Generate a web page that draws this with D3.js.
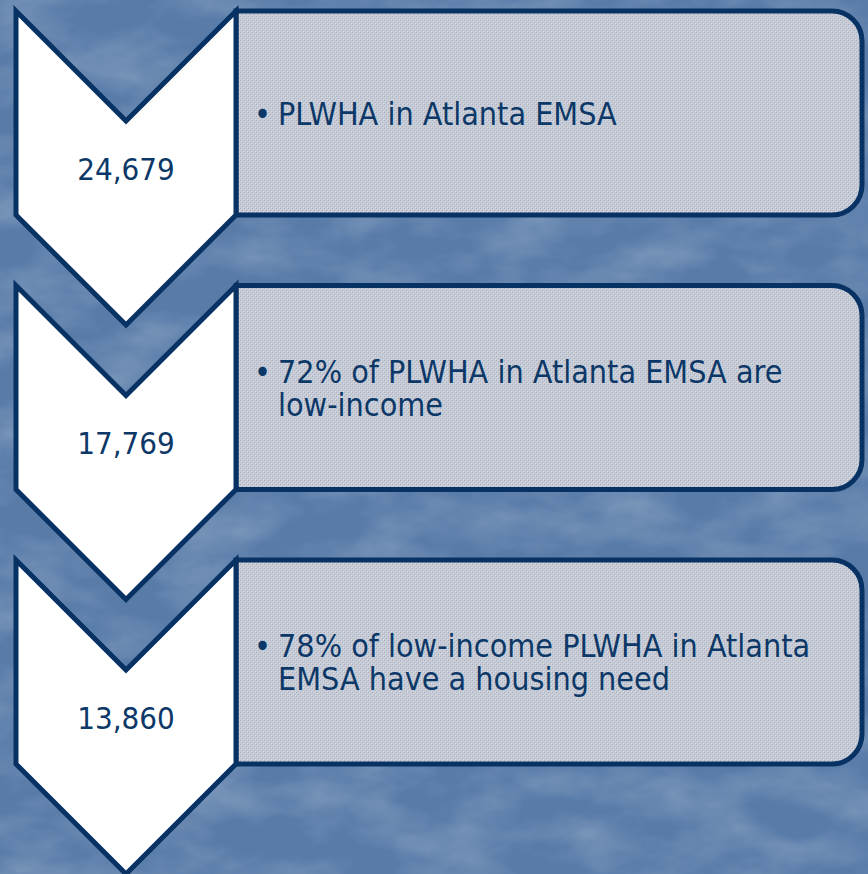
<!DOCTYPE html>
<html>
<head>
<meta charset="utf-8">
<script src="https://cdn.jsdelivr.net/npm/d3@7"></script>
<style>
  html, body { margin: 0; padding: 0; background: #5a7da9; }
  svg { display: block; }
  text { font-family: "DejaVu Sans Condensed", "DejaVu Sans", sans-serif; font-stretch: condensed; }
</style>
</head>
<body>
<script>
// ---- data ----
const stepIndex = [0, 1, 2];
const counts = [24679, 17769, 13860];
const descriptions = [
  ["PLWHA in Atlanta EMSA"],
  ["72% of PLWHA in Atlanta EMSA are", "low-income"],
  ["78% of low-income PLWHA in Atlanta", "EMSA have a housing need"]
];

// ---- layout ----
const W = 868, H = 874;
const navy = "#073263";
const textColor = "#0c3868";
const fontSize = 32;
const numSize = 31;
const lineH = 33;

const svg = d3.select("body").append("svg").attr("width", W).attr("height", H);
const defs = svg.append("defs");

// background texture
const f = defs.append("filter").attr("id", "tex").attr("x", 0).attr("y", 0).attr("width", "100%").attr("height", "100%");
f.append("feTurbulence").attr("type", "fractalNoise").attr("baseFrequency", "0.012 0.022").attr("numOctaves", 4).attr("seed", 11);
f.append("feColorMatrix").attr("type", "matrix")
  .attr("values", "0 0 0 0 1  0 0 0 0 1  0 0 0 0 1  0.4 0 0 0 -0.15");

svg.append("rect").attr("width", W).attr("height", H).attr("fill", "#587ba8");
svg.append("rect").attr("width", W).attr("height", H).attr("filter", "url(#tex)");

// dotted fill for boxes
const pat = defs.append("pattern").attr("id", "dots").attr("patternUnits", "userSpaceOnUse")
  .attr("width", 4).attr("height", 4);
pat.append("rect").attr("width", 4).attr("height", 4).attr("fill", "#c5cad4");
pat.append("rect").attr("x", 0).attr("y", 0).attr("width", 1).attr("height", 1).attr("fill", "#a7b0c2");
pat.append("rect").attr("x", 2).attr("y", 2).attr("width", 1).attr("height", 1).attr("fill", "#a7b0c2");
pat.append("rect").attr("x", 1).attr("y", 1).attr("width", 1).attr("height", 1).attr("fill", "#d8dbe3");
pat.append("rect").attr("x", 3).attr("y", 3).attr("width", 1).attr("height", 1).attr("fill", "#d8dbe3");

// scales
const y = d3.scaleLinear().domain([0, 1]).range([11, 285.5]); // top of each step
const stepH = 204;
const x = d3.scaleLinear().domain([0, 1]).range([16, 236]); // chevron left..right
const boxRight = 862, radius = 30;
const half = (x(1) - x(0)) / 2;
const cx = (x(0) + x(1)) / 2;
const fmt = d3.format(",");

const g = svg.selectAll("g.step").data(stepIndex).join("g").attr("class", "step");

// boxes
g.append("path")
  .attr("d", i => {
    const t = y(i), b = y(i) + stepH, l = x(1);
    return `M${l},${t}H${boxRight - radius}A${radius},${radius} 0 0 1 ${boxRight},${t + radius}` +
           `V${b - radius}A${radius},${radius} 0 0 1 ${boxRight - radius},${b}H${l}Z`;
  })
  .attr("fill", "url(#dots)")
  .attr("stroke", navy).attr("stroke-width", 5);

// chevrons
g.append("path")
  .attr("d", i => {
    const t = y(i), b = y(i) + stepH;
    return `M${x(0)},${t}L${cx},${t + half}L${x(1)},${t}L${x(1)},${b}L${cx},${b + half}L${x(0)},${b}Z`;
  })
  .attr("fill", "#ffffff")
  .attr("stroke", navy).attr("stroke-width", 5).attr("stroke-linejoin", "miter");

// numbers
g.append("text")
  .attr("x", cx)
  .attr("y", i => y(i) + 168.5)
  .attr("text-anchor", "middle")
  .attr("font-size", numSize)
  .attr("fill", textColor)
  .text(i => fmt(counts[i]));

// descriptions (bullet + wrapped lines as one text block)
const capH = fontSize * 0.73;
g.each(function(i) {
  const lines = descriptions[i];
  const center = y(i) + stepH / 2;
  const first = center + capH / 2 - (lines.length - 1) * lineH / 2;
  const t = d3.select(this).append("text")
    .attr("font-size", fontSize).attr("fill", textColor);
  t.append("tspan").attr("x", 254).attr("y", first).text("\u2022");
  lines.forEach((ln, k) => {
    t.append("tspan").attr("x", 278).attr("y", first + k * lineH).text(ln);
  });
});
</script>
</body>
</html>
